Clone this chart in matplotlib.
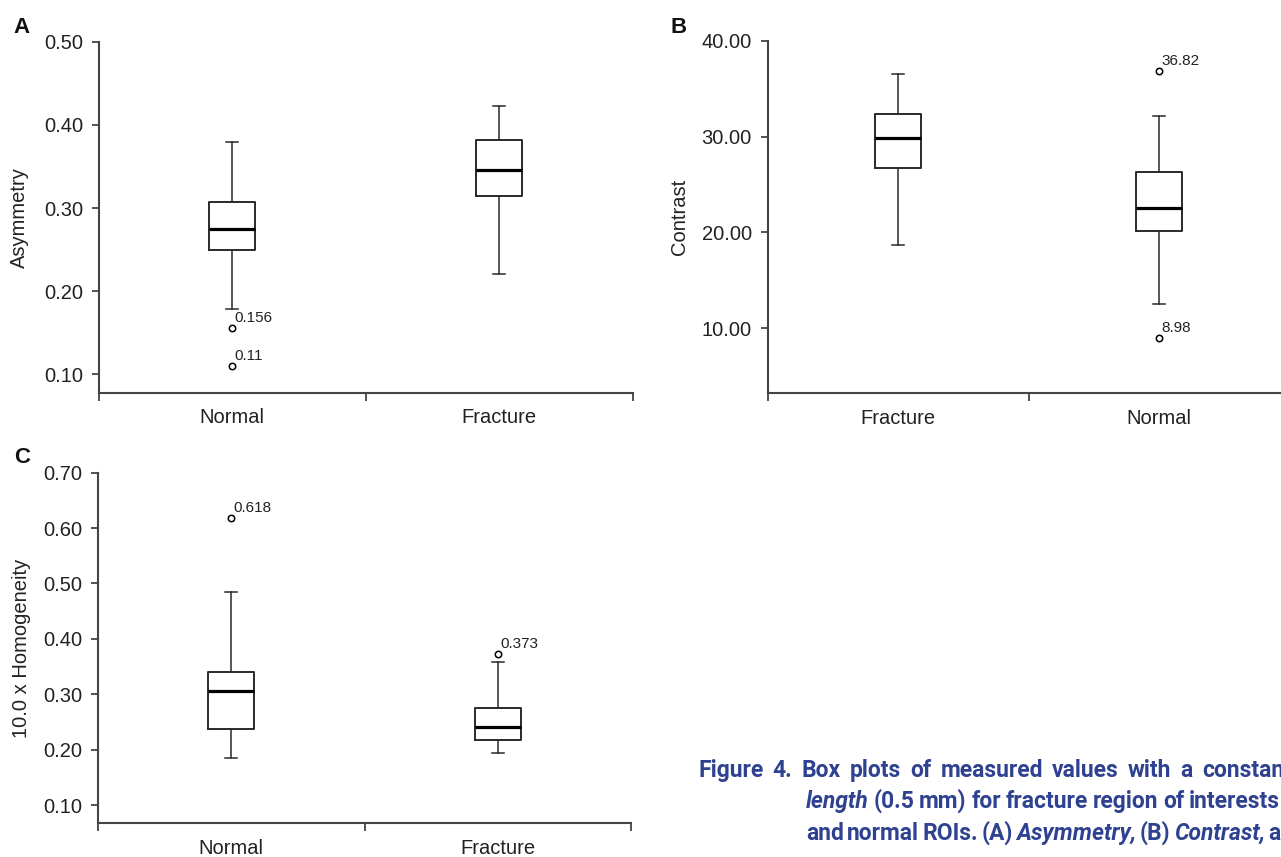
import matplotlib
matplotlib.use("Agg")
import matplotlib.pyplot as plt
from matplotlib.ticker import FixedLocator, FormatStrFormatter

plt.rcParams['font.family'] = ['Liberation Sans', 'DejaVu Sans']

# panel A - asymmetry
asym_groups = ["Normal", "Fracture"]
asym_whislo = [0.179, 0.221]
asym_q1 = [0.250, 0.315]
asym_med = [0.2745, 0.346]
asym_q3 = [0.307, 0.382]
asym_whishi = [0.380, 0.423]
asym_fliers = [[0.156, 0.11], []]
asym_flier_labels = [["0.156", "0.11"], []]

# panel B - contrast
contrast_groups = ["Fracture", "Normal"]
contrast_whislo = [18.68, 12.52]
contrast_q1 = [26.76, 20.18]
contrast_med = [29.9, 22.52]
contrast_q3 = [32.34, 26.34]
contrast_whishi = [36.52, 32.16]
contrast_fliers = [[], [36.82, 8.98]]
contrast_flier_labels = [[], ["36.82", "8.98"]]

# panel C - homogeneity
homo_groups = ["Normal", "Fracture"]
homo_whislo = [0.185, 0.194]
homo_q1 = [0.237, 0.2175]
homo_med = [0.305, 0.241]
homo_q3 = [0.341, 0.276]
homo_whishi = [0.4855, 0.358]
homo_fliers = [[0.618], [0.373]]
homo_flier_labels = [["0.618"], ["0.373"]]

# caption lines: (word, italic); justified between a left and a right edge
caption_lines = [
    [("Figure", False), ("4.", False), ("Box", False), ("plots", False), ("of", False),
     ("measured", False), ("values", False), ("with", False), ("a", False), ("constant", False)],
    [("length", True), ("(0.5", False), ("mm)", False), ("for", False), ("fracture", False),
     ("region", False), ("of", False), ("interests", False)],
    [("and", False), ("normal", False), ("ROIs.", False), ("(A)", False), ("Asymmetry,", True),
     ("(B)", False), ("Contrast,", True), ("and", False)],
]
caption_left = [698, 806, 806]
caption_right = [1292, 1280, 1306]
caption_baselines = [777, 808, 840]

W, H = 1281, 857
line_col = "#2a2a2a"
text_col = "#222222"


def draw_panel(ax, groups, whislo, q1, med, q3, whishi, fliers, flier_labels,
               ylim, yticks, fmt, ylabel, label_x):
    stats = []
    for i in range(len(groups)):
        stats.append(dict(label=groups[i], whislo=whislo[i], q1=q1[i], med=med[i],
                          q3=q3[i], whishi=whishi[i], fliers=fliers[i]))
    ax.bxp(stats, positions=range(len(groups)), widths=0.173, capwidths=0.045,
           boxprops=dict(color=line_col, linewidth=1.4),
           medianprops=dict(color="black", linewidth=2.3),
           whiskerprops=dict(color=line_col, linewidth=1.1),
           capprops=dict(color=line_col, linewidth=1.1),
           flierprops=dict(marker="o", markersize=4.6, markerfacecolor="none",
                           markeredgecolor="black", markeredgewidth=1.1))
    for i in range(len(groups)):
        for v, t in zip(fliers[i], flier_labels[i]):
            ax.annotate(t, (i, v), xytext=(1.6, 2.2), textcoords="offset points",
                        ha="left", va="bottom", fontsize=11, color=text_col)
    ax.set_xlim(-0.5, 1.5)
    ax.set_ylim(*ylim)
    ax.set_yticks(yticks)
    ax.yaxis.set_major_formatter(FormatStrFormatter(fmt))
    ax.set_xticks(range(len(groups)))
    ax.set_xticklabels(groups)
    ax.xaxis.set_minor_locator(FixedLocator([-0.5, 0.5, 1.5]))
    ax.tick_params(axis="x", which="major", length=0, pad=11, labelsize=14.5, labelcolor=text_col)
    ax.tick_params(axis="x", which="minor", length=5.5, width=1.3, color="#444444")
    ax.tick_params(axis="y", length=5.3, width=1.3, color="#444444", pad=6,
                   labelsize=14.5, labelcolor=text_col)
    for s in ["top", "right"]:
        ax.spines[s].set_visible(False)
    for s in ["left", "bottom"]:
        ax.spines[s].set_color("#444444")
        ax.spines[s].set_linewidth(1.5)
    ax.set_ylabel(ylabel, fontsize=14.5, color=text_col)
    ax.yaxis.set_label_coords(label_x, 0.5)


fig = plt.figure(figsize=(W / 100, H / 100), dpi=100)

axA = fig.add_axes([98.7 / W, 1 - 392.7 / H, 534 / W, 351 / H])
draw_panel(axA, asym_groups, asym_whislo, asym_q1, asym_med, asym_q3, asym_whishi,
           asym_fliers, asym_flier_labels, (0.078, 0.50),
           [0.10, 0.20, 0.30, 0.40, 0.50], "%.2f", "Asymmetry", -0.1315)

axB = fig.add_axes([767.5 / W, 1 - 393.3 / H, 522 / W, 352.3 / H])
draw_panel(axB, contrast_groups, contrast_whislo, contrast_q1, contrast_med, contrast_q3,
           contrast_whishi, contrast_fliers, contrast_flier_labels, (3.2, 40.0),
           [10, 20, 30, 40], "%.2f", "Contrast", -0.150)

axC = fig.add_axes([98 / W, 1 - 823.3 / H, 533 / W, 350.6 / H])
draw_panel(axC, homo_groups, homo_whislo, homo_q1, homo_med, homo_q3, homo_whishi,
           homo_fliers, homo_flier_labels, (0.067, 0.70),
           [0.10, 0.20, 0.30, 0.40, 0.50, 0.60, 0.70], "%.2f", "10.0 x Homogeneity", -0.126)

for lab, x, y in [("A", 13, 33), ("B", 671, 33), ("C", 14, 463)]:
    fig.text(x / W, 1 - y / H, lab, fontsize=16, fontweight="bold", color="#111111",
             va="baseline", ha="left")

# justified caption, clipped on the right like the source page
cap_col = "#2f4291"
renderer = fig.canvas.get_renderer()
for words, x0, x1, yb in zip(caption_lines, caption_left, caption_right, caption_baselines):
    texts = []
    for w, it in words:
        texts.append(fig.text(0, 1 - yb / H, w, fontsize=16.5, fontweight="bold", color=cap_col,
                              family=["Roboto", "DejaVu Sans"],
                              style="italic" if it else "normal", va="baseline", ha="left"))
    widths = [t.get_window_extent(renderer).width for t in texts]
    gap = (x1 - x0 - sum(widths)) / (len(texts) - 1)
    x = x0
    for t, wd in zip(texts, widths):
        t.set_x(x / W)
        x += wd + gap

fig.savefig("out.png", dpi=100)
